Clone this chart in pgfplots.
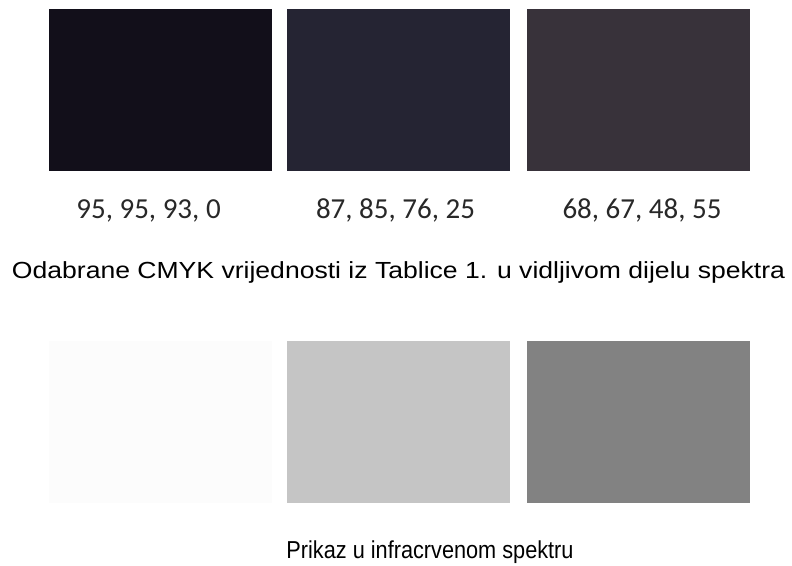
\documentclass[border=0pt]{standalone}
\usepackage{fontspec}
\setmainfont{Liberation Sans}
\newfontfamily\calfont{Carlito}
\usepackage{pgfplots}
\pgfplotsset{compat=1.18}

% swatch colours
\definecolor{vis1}{RGB}{18,15,26}
\definecolor{vis2}{RGB}{37,36,51}
\definecolor{vis3}{RGB}{56,50,58}
\definecolor{ir1}{RGB}{252,252,252}
\definecolor{ir2}{RGB}{197,197,197}
\definecolor{ir3}{RGB}{130,130,130}
\definecolor{txt}{RGB}{40,40,40}

\begin{document}
\begin{tikzpicture}
\begin{axis}[
    width=792bp, height=566bp,
    scale only axis,
    hide axis,
    xmin=0, xmax=792,
    ymin=0, ymax=566,
    y dir=reverse,
    clip=false,
]
% invisible frame so the page keeps the full size
\addplot[draw=none, forget plot] coordinates {(0,0) (792,0) (792,566) (0,566)};
% visible spectrum row
\addplot[fill=vis1, draw=none] coordinates {(49,9) (272,9) (272,171) (49,171)} -- cycle;
\addplot[fill=vis2, draw=none] coordinates {(287,9) (510,9) (510,171) (287,171)} -- cycle;
\addplot[fill=vis3, draw=none] coordinates {(527,9) (750,9) (750,171) (527,171)} -- cycle;
% infrared row
\addplot[fill=ir1, draw=none] coordinates {(49,341) (272,341) (272,503) (49,503)} -- cycle;
\addplot[fill=ir2, draw=none] coordinates {(287,341) (510,341) (510,503) (287,503)} -- cycle;
\addplot[fill=ir3, draw=none] coordinates {(527,341) (750,341) (750,503) (527,503)} -- cycle;

\begin{scope}[every node/.style={inner sep=0pt, anchor=base, text=txt}]
\node at (axis cs:148.5,218) {\calfont\fontsize{29bp}{32bp}\selectfont 95, 95, 93, 0};
\node at (axis cs:395.5,218) {\calfont\fontsize{29bp}{32bp}\selectfont 87, 85, 76, 25};
\node at (axis cs:642,218) {\calfont\fontsize{29bp}{32bp}\selectfont 68, 67, 48, 55};
\node[text=black, xscale=1.14] at (axis cs:398.5,278) {\fontsize{23.3bp}{27bp}\selectfont Odabrane CMYK vrijednosti iz Tablice 1. u vidljivom dijelu spektra};
\node[text=black, xscale=0.886] at (axis cs:430,558) {\fontsize{24.5bp}{28bp}\selectfont Prikaz u infracrvenom spektru};
\end{scope}
\end{axis}
\end{tikzpicture}
\end{document}
